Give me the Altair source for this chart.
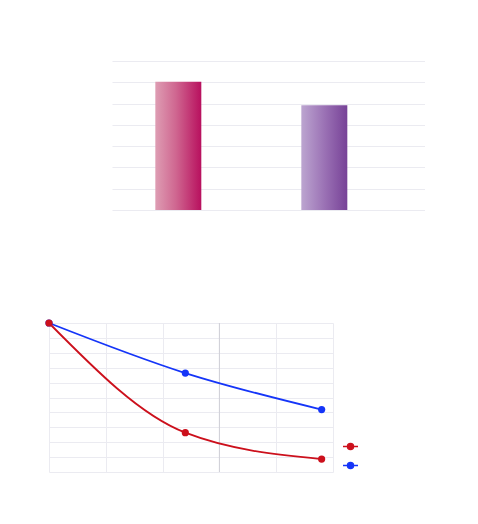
import altair as alt
import pandas as pd

# --- top bar chart data ---
bar_categories = ["A", "B"]
bar_values = [6.03, 4.92]

# --- bottom line chart data ---
line_x = [0, 12, 24]
series_red = [100, 26.4, 8.7]
series_blue = [100, 66.4, 41.9]
series_names = ["Series 1", "Series 2"]
highlight_x = [15]

bars = pd.DataFrame({"cat": bar_categories, "value": bar_values})

# blue rows first so the red series is drawn on top
rows = []
for name, vals in zip(series_names[::-1], [series_blue, series_red]):
    for x, v in zip(line_x, vals):
        rows.append({"series": name, "x": x, "y": v})
lines = pd.DataFrame(rows)
hl = pd.DataFrame({"x": highlight_x})

GRID = "#ebebf1"

grad1 = alt.Gradient(
    gradient="linear",
    stops=[
        alt.GradientStop(color="#de9db3", offset=0),
        alt.GradientStop(color="#cf6690", offset=0.45),
        alt.GradientStop(color="#b8105e", offset=1),
    ],
    x1=0, x2=1, y1=0, y2=0,
)
grad2 = alt.Gradient(
    gradient="linear",
    stops=[
        alt.GradientStop(color="#bca5d0", offset=0),
        alt.GradientStop(color="#9b72b5", offset=0.5),
        alt.GradientStop(color="#774297", offset=1),
    ],
    x1=0, x2=1, y1=0, y2=0,
)

xb = alt.X("cat:N", axis=None,
           scale=alt.Scale(paddingInner=0.685, paddingOuter=0.4144, align=0.358))
yb = alt.Y("value:Q", title=None,
           scale=alt.Scale(domain=[0, 7], nice=False),
           axis=alt.Axis(values=[0, 1, 2, 3, 4, 5, 6, 7], labels=False, ticks=False,
                         domain=False, grid=True, gridColor=GRID,
                         minExtent=0, maxExtent=0))

bar1 = alt.Chart(bars).transform_filter(alt.datum.cat == bar_categories[0]).mark_bar(color=grad1).encode(x=xb, y=yb)
bar2 = alt.Chart(bars).transform_filter(alt.datum.cat == bar_categories[1]).mark_bar(color=grad2).encode(x=xb, y=yb)
top = alt.layer(bar1, bar2).properties(width=313, height=149)

# invisible spacer that pushes the bar chart to the right
spacer = alt.Chart(pd.DataFrame({"v": [0]})).mark_point(opacity=0, size=1).encode(
    x=alt.X("v:Q", axis=None), y=alt.Y("v:Q", axis=None)
).properties(width=63, height=149)

top_row = alt.hconcat(spacer, top, spacing=0)

xl = alt.X("x:Q", title=None,
           scale=alt.Scale(domain=[0, 25], nice=False),
           axis=alt.Axis(values=[0, 5, 10, 15, 20, 25], labels=False, ticks=False,
                         domain=False, grid=True, gridColor=GRID))
yl = alt.Y("y:Q", title=None,
           scale=alt.Scale(domain=[0, 100], nice=False),
           axis=alt.Axis(values=list(range(0, 101, 10)), labels=False, ticks=False,
                         domain=False, grid=True, gridColor=GRID,
                         minExtent=41, maxExtent=41))
color = alt.Color("series:N", title=None,
                  scale=alt.Scale(domain=series_names, range=["#cc101c", "#1535f8"]),
                  legend=alt.Legend(orient="none", legendX=293, legendY=377,
                                    symbolType="M-1,0H1M-0.4,0A0.4,0.4,0,1,1,0.4,0A0.4,0.4,0,1,1,-0.4,0Z",
                                    symbolSize=225, symbolStrokeWidth=1.5,
                                    labelExpr="''", rowPadding=4))

rule = alt.Chart(hl).mark_rule(color="#cfcfd6", strokeWidth=1).encode(x=alt.X("x:Q"))
line = alt.Chart(lines).mark_line(interpolate="monotone", strokeWidth=1.8).encode(
    x=xl, y=yl, color=color)
pts = alt.Chart(lines).mark_circle(size=52, opacity=1).encode(x=xl, y=yl, color=color)
bottom = alt.layer(rule, line, pts).properties(width=284, height=149)

chart = alt.vconcat(top_row, bottom, spacing=109).properties(
    padding={"top": 53, "left": 0, "right": 0, "bottom": 0}
).configure_view(stroke=None)

chart.save("out.html", embed_options={"renderer": "svg", "actions": False})
